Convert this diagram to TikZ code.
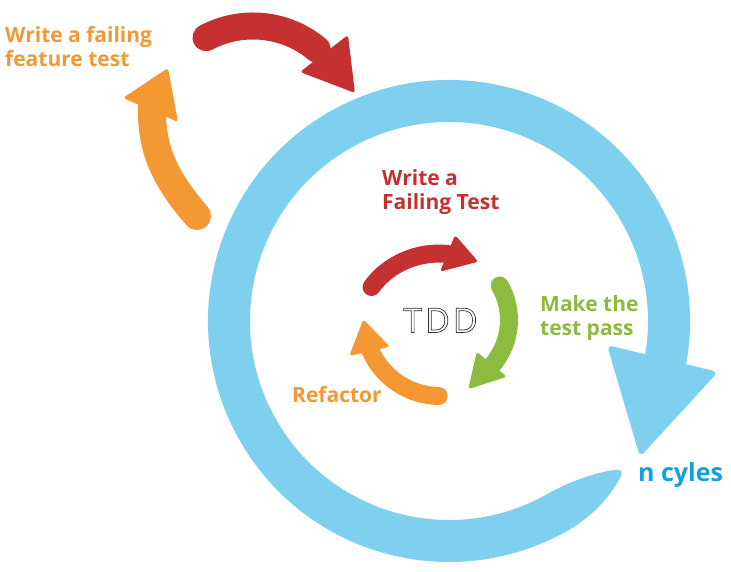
\documentclass[tikz,border=0pt]{standalone}
\usepackage{fontspec}
\setmainfont{Open Sans}
\definecolor{cyclebl}{RGB}{127,208,238}
\definecolor{cyclered}{RGB}{196,49,48}
\definecolor{cycleor}{RGB}{243,152,50}
\definecolor{cyclegr}{RGB}{141,187,64}
\definecolor{cyclelabel}{RGB}{20,160,222}
% two stacked lines whose baseline is the first line
\newcommand\labellines[2]{\vtop{\hbox{#1}\hbox{#2}}}
% white letters with a thin dark outline
\newcommand\hollowtext[1]{\textcolor{white}{\special{pdf:literal direct 2 Tr 0.7 w 0.2 0.2 0.2 RG}#1\special{pdf:literal direct 0 Tr}}}
\begin{document}
\begin{tikzpicture}[x=1pt,y=1pt,
  tddlabel/.style={inner sep=0pt, anchor=base west, font=\bfseries\fontsize{21}{23.5}\selectfont},
  arrowshaft/.style={line width=#1, line cap=round},
  tipshape/.style={rounded corners=3pt}]
\useasboundingbox (0,0) rectangle (731,572);
\fill[white] (0,0) rectangle (731,572);

% large cycle: tapered tail at the bottom, band running round clockwise
\begin{scope}[shift={(449,251)}]
  \fill[cyclebl] (-371:241) arc[start angle=-371, end angle=-60, radius=241]
    .. controls (148,-192) and (163,-172) .. (171,-157)
    .. controls (175,-150) and (172,-148) .. (165,-149)
    .. controls (145,-152) and (122,-160) .. (-60:199)
    arc[start angle=-60, end angle=-371, radius=199] -- cycle;
\end{scope}
\fill[cyclebl, rounded corners=6pt] (607,227) -- (718,200) -- (640,115) -- cycle;

% outer feature-test loop
\draw[cyclered, arrowshaft=27] (253,446) ++(118:100) arc[start angle=118, end angle=50, radius=100];
\fill[cyclered, tipshape] (348,537) -- (355,479) -- (300,500) -- cycle;
\draw[cycleor, arrowshaft=28] (197,356) .. controls (163,395) and (151,425) .. (152,466);
\fill[cycleor, tipshape] (168,504) -- (123,474) -- (178,450) -- cycle;

% inner TDD loop
\draw[cyclered, arrowshaft=18] (371.5,285) .. controls (388.7,308.7) and (418.8,321.1) .. (448,318);
\fill[cyclered, tipshape] (455,337) -- (478.3,310.3) -- (440,300.3) -- cycle;
\draw[cyclegr, arrowshaft=18] (440,252) ++(30:69) arc[start angle=30, end angle=-41, radius=69];
\fill[cyclegr, tipshape] (476.7,220.3) -- (506.7,195.3) -- (468.3,182.7) -- cycle;
\draw[cycleor, arrowshaft=18] (440,252) ++(269:76) arc[start angle=269, end angle=203, radius=76];
\fill[cycleor, tipshape] (363.3,252.7) -- (349.3,216) -- (390,225.3) -- cycle;

% labels
\node[tddlabel, text=cycleor] (featuretest) at (5,529) {\labellines{Write a failing}{feature test}};
\node[tddlabel, text=cyclered] (failtest) at (382,386) {\labellines{Write a}{Failing Test}};
\node[tddlabel, text=cyclegr] (passtest) at (540,260) {\labellines{Make the}{test pass}};
\node[tddlabel, text=cycleor] (refactor) at (292,169) {Refactor};
\node[tddlabel, text=cyclelabel, font=\bfseries\fontsize{25}{28}\selectfont] (ncycles) at (638,90) {n cyles};
\node[inner sep=0pt, anchor=base, font=\fontsize{34}{34}\selectfont] (tdd) at (440.5,239.5) {\hollowtext{T\hspace{3pt}D\hspace{3pt}D}};
\end{tikzpicture}
\end{document}
